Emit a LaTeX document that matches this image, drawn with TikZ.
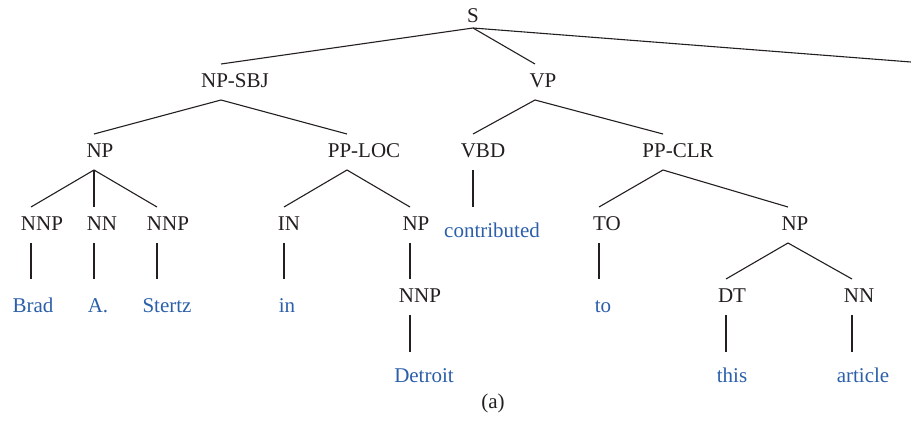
\documentclass[tikz,border=0pt]{standalone}
\usepackage{fontspec}
\setmainfont{Liberation Serif}
\definecolor{ink}{RGB}{35,31,32}
\definecolor{wordblue}{RGB}{43,95,170}
% category label: name, attach x, text x, baseline y, text
\newcommand\treecat[5]{%
  \node[catnode] (#1) at (#3,#4) {#5};
  \coordinate (#1-t) at (#2,#4-23);
  \coordinate (#1-b) at (#2,#4+13);}
% word leaf: name, text x, baseline y, text
\newcommand\treeword[4]{\node[wordnode] (#1) at (#2,#3) {#4};}
\begin{document}
\begin{tikzpicture}[x=1pt,y=-1pt,
  catnode/.style={inner sep=0pt,anchor=base,text=ink,font=\fontsize{21}{24}\selectfont},
  wordnode/.style={inner sep=0pt,anchor=base,text=wordblue,font=\fontsize{21}{24}\selectfont},
  edge/.style={draw=ink,line width=1.1pt}]
\useasboundingbox (0,0) rectangle (911,421);

% root
\node[catnode] (S) at (473,22) {S};
\coordinate (S-b) at (473,28);
\coordinate (cut) at (911,62);

% phrase levels
\treecat{npsbj}{221}{235}{87}{NP-SBJ}
\treecat{vp}{535}{543}{87}{VP}
\treecat{np}{94}{100}{157}{NP}
\treecat{pploc}{347}{364}{157}{PP-LOC}
\treecat{vbd}{473}{483}{157}{VBD}
\treecat{ppclr}{663}{678}{157}{PP-CLR}
\treecat{nnpa}{31}{42}{230}{NNP}
\treecat{nna}{94}{102}{230}{NN}
\treecat{nnpb}{157}{168}{230}{NNP}
\treecat{in}{284}{289}{230}{IN}
\treecat{npb}{410}{416}{230}{NP}
\treecat{to}{599}{607}{230}{TO}
\treecat{npc}{788}{795}{230}{NP}
\treecat{nnpc}{410}{420}{302}{NNP}
\treecat{dt}{726}{732}{302}{DT}
\treecat{nnb}{852}{859}{302}{NN}

% words
\treeword{wcontrib}{492}{237}{contributed}
\treeword{wbrad}{33}{312}{Brad}
\treeword{wa}{98}{312}{A.}
\treeword{wstertz}{167}{312}{Stertz}
\treeword{win}{287}{312}{in}
\treeword{wto}{603}{312}{to}
\treeword{wdetroit}{424}{382}{Detroit}
\treeword{wthis}{732}{382}{this}
\treeword{warticle}{863}{382}{article}

% branches
\draw[edge] (npsbj-t) -- (S-b) -- (vp-t);
\draw[edge] (S-b) -- (cut);
\draw[edge] (np-t) -- (npsbj-b) -- (pploc-t);
\draw[edge] (vbd-t) -- (vp-b) -- (ppclr-t);
\draw[edge] (nnpa-t) -- (np-b) -- (nnpb-t);
\draw[edge] (np-b) -- (nna-t);
\draw[edge] (in-t) -- (pploc-b) -- (npb-t);
\draw[edge] (to-t) -- (ppclr-b) -- (npc-t);
\draw[edge] (npb-b) -- (nnpc-t);
\draw[edge] (dt-t) -- (npc-b) -- (nnb-t);

% leaf stems
\draw[edge] (vbd-b) -- (vbd-b |- nnpa-t);
\draw[edge] (nnpa-b) -- (nnpa-b |- nnpc-t);
\draw[edge] (nna-b) -- (nna-b |- nnpc-t);
\draw[edge] (nnpb-b) -- (nnpb-b |- nnpc-t);
\draw[edge] (in-b) -- (in-b |- nnpc-t);
\draw[edge] (to-b) -- (to-b |- nnpc-t);
\draw[edge] (nnpc-b) -- (nnpc-b |- 0,352);
\draw[edge] (dt-b) -- (dt-b |- 0,352);
\draw[edge] (nnb-b) -- (nnb-b |- 0,352);

% caption
\node[catnode] (cap) at (493,408) {(a)};
\end{tikzpicture}
\end{document}
